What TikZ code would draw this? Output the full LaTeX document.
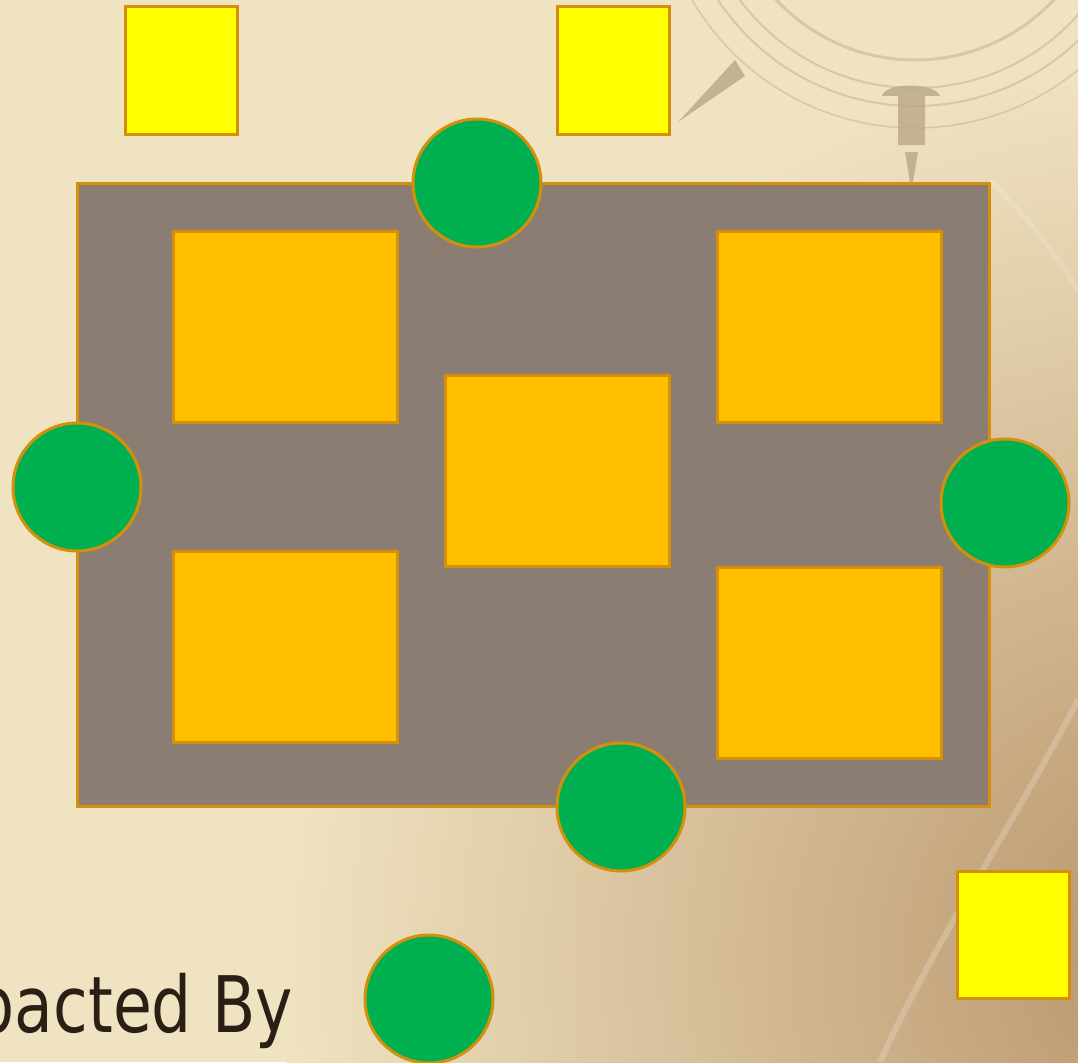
\documentclass[tikz,border=0pt]{standalone}
\usepackage{fontspec}
\setmainfont{DejaVu Sans}
\usetikzlibrary{shapes.geometric}
\definecolor{bgbeige}{HTML}{F0E3C1}
\definecolor{bgtan}{HTML}{B8946A}
\definecolor{bgline}{HTML}{B9A888}
\definecolor{panelgray}{HTML}{8B7D71}
\definecolor{boxorange}{HTML}{FFC000}
\definecolor{boxyellow}{HTML}{FFFF00}
\definecolor{dotgreen}{HTML}{00B050}
\definecolor{edgeorange}{HTML}{D4900A}
\definecolor{textbrown}{HTML}{2A1F14}
\tikzset{
  shp/.style={draw=edgeorange, line width=3pt, inner sep=0pt, outer sep=0pt},
  ybox/.style={shp, rectangle, fill=boxyellow, minimum width=112pt, minimum height=127pt},
  obox/.style={shp, rectangle, fill=boxorange, minimum width=224pt, minimum height=191pt},
  panel/.style={shp, rectangle, fill=panelgray, minimum width=912pt, minimum height=623pt},
  gdot/.style={shp, circle, fill=dotgreen, minimum size=128pt},
  caption/.style={text=textbrown, inner sep=0pt, font=\fontsize{78pt}{90pt}\selectfont}
}
\begin{document}
\begin{tikzpicture}[x=1pt,y=-1pt]
\useasboundingbox (0,0) rectangle (1078,1062);
\begin{scope}
\clip (0,0) rectangle (1078,1062);
% background
\fill[bgbeige] (0,0) rectangle (1078,1062);
\shade[inner color=bgtan, outer color=bgbeige] (1180,960) circle (900pt);
% globe ornaments
\begin{scope}[draw=bgline, opacity=0.45]
  \draw[line width=3pt] (915,-130) circle (190pt);
  \draw[line width=2pt] (915,-130) circle (218pt);
  \draw[line width=2pt] (915,-130) circle (236pt);
  \draw[line width=1.5pt] (915,-130) circle (258pt);
\end{scope}
\fill[bgline, opacity=0.8] (678,122) -- (735,60) -- (745,76) -- cycle;
\fill[bgline, opacity=0.8] (882,96) .. controls (885,82) and (935,82) .. (940,96) -- (925,96) -- (925,145) -- (898,145) -- (898,96) -- cycle;
\fill[bgline, opacity=0.8] (905,152) -- (918,152) -- (913,182) -- (910,182) -- cycle;
% light rim streaks
\draw[white, opacity=0.2, line width=6pt] (1078,700) .. controls (1010,830) and (930,950) .. (880,1062);
\draw[white, opacity=0.15, line width=5pt] (990,180) .. controls (1030,220) and (1060,260) .. (1078,290);
\end{scope}
% yellow squares
\node[ybox] (y1) at (181,70.5) {};
\node[ybox] (y2) at (613,70.5) {};
\node[ybox] (y3) at (1013,934.5) {};
% panel
\node[panel] (p) at (533,494.5) {};
% orange boxes
\node[obox] (o1) at (285,326.5) {};
\node[obox] (o2) at (829,326.5) {};
\node[obox] (o3) at (557,470.5) {};
\node[obox] (o4) at (285,646.5) {};
\node[obox] (o5) at (829,662.5) {};
% green circles
\node[gdot] (g1) at (477,183) {};
\node[gdot] (g2) at (77,487) {};
\node[gdot] (g3) at (1005,503) {};
\node[gdot] (g4) at (621,807) {};
\node[gdot] (g5) at (429,999) {};
% text
\node[caption, anchor=base east] (t) at (293,1032) {\scalebox{0.81}[1]{pacted By}};
\end{tikzpicture}
\end{document}
